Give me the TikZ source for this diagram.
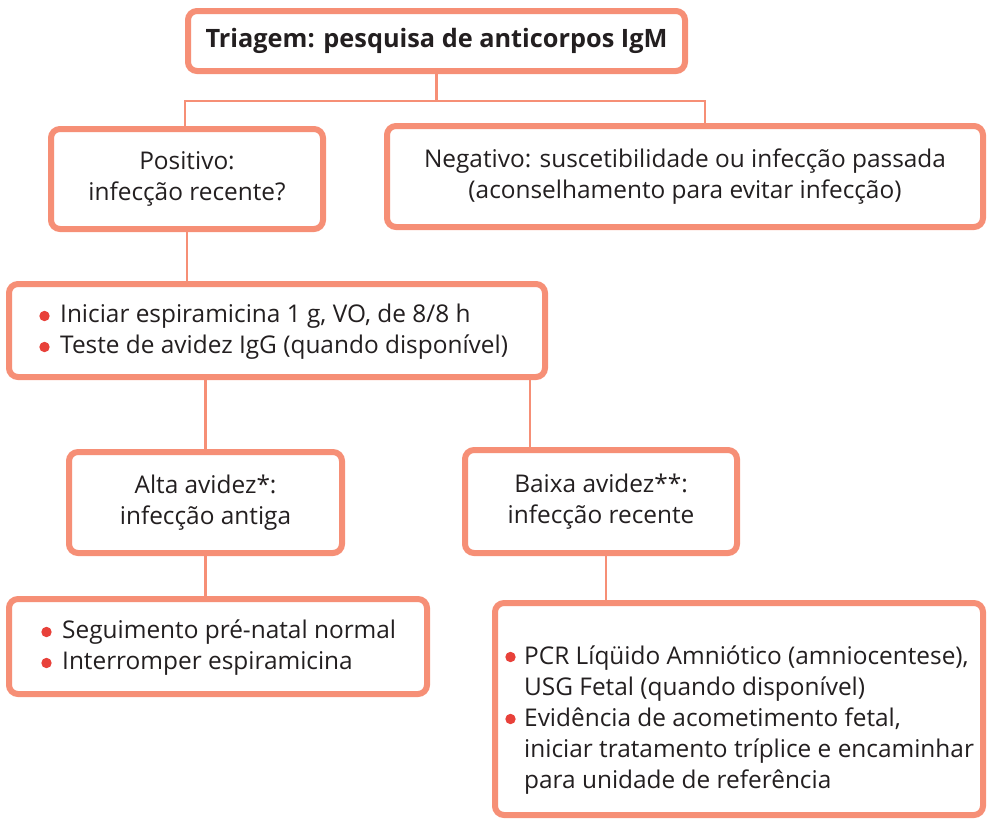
\documentclass[tikz,border=0pt]{standalone}
\usepackage{fontspec}
\setmainfont{Open Sans}
\definecolor{boxline}{RGB}{246,143,118}
\definecolor{bulred}{RGB}{232,65,58}
\definecolor{txt}{RGB}{35,31,32}
\begin{document}
\begin{tikzpicture}[x=1pt,y=-1pt,
  box/.style={draw=boxline,line width=6pt,rounded corners=9pt,fill=white,inner sep=0pt,
    font=\fontsize{24.4}{31}\selectfont,text=txt,align=center},
  list/.style={font=\fontsize{24.4}{31}\selectfont,text=txt,align=left,anchor=west,inner sep=0pt},
  bullet/.style={fill=bulred},
  conn/.style={draw=boxline,line width=2.6pt}]
\useasboundingbox (0,0) rectangle (989,823);
\coordinate (jl) at (185,101);
\coordinate (jr) at (705,101);
\coordinate (cb) at (530,400);
\coordinate (cp) at (606,580);
\node[box,minimum width=497pt,minimum height=60pt,font=\fontsize{25.3}{31}\selectfont\bfseries] (top) at (436.5,41) {Triagem: pesquisa de anticorpos IgM};
\node[box,minimum width=272pt,minimum height=100pt] (pos) at (187,179) {Positivo:\\infecção recente?};
\node[box,minimum width=596pt,minimum height=101pt] (neg) at (685,176.5) {Negativo: suscetibilidade ou infecção passada\\(aconselhamento para evitar infecção)};
\node[box,minimum width=536pt,minimum height=93pt] (ini) at (277,330.5) {};
\node[list] (initext) at (60,331.5) {Iniciar espiramicina 1 g, VO, de 8/8 h\\Teste de avidez IgG (quando disponível)};
\fill[bullet] (44.5,316) circle (5.2pt) (44.5,347) circle (5.2pt);
\node[box,minimum width=418pt,minimum height=95pt] (seg) at (218,646.5) {};
\node[list] (segtext) at (62,647.5) {Seguimento pré-natal normal\\Interromper espiramicina};
\fill[bullet] (46.5,632) circle (5.2pt) (46.5,663) circle (5.2pt);
\node[box,minimum width=273pt,minimum height=101pt] (alta) at (205.5,502.5) {Alta avidez*:\\infecção antiga};
\node[box,minimum width=272pt,minimum height=103pt] (baixa) at (601,501.5) {Baixa avidez**:\\infecção recente};
\node[box,minimum width=488pt,minimum height=212pt] (pcr) at (739,709) {};
\node[list] (pcrtext) at (524,720) {PCR Líqüido Amniótico (amniocentese),\\USG Fetal (quando disponível)\\Evidência de acometimento fetal,\\iniciar tratamento tríplice e encaminhar\\para unidade de referência};
\fill[bullet] (510.5,657) circle (5.2pt) (510.5,719) circle (5.2pt);
\draw[conn] (top.south) -- (top.south |- jl);
\draw[conn] (jl |- pos.north) -- (jl) -- (jr) -- (jr |- neg.north);
\draw[conn] (pos.south) -- (pos.south |- ini.north);
\draw[conn] (alta.north |- ini.south) -- (alta.north);
\draw[conn] (cb |- ini.south) -- (cb |- baixa.north);
\draw[conn] (alta.south) -- (alta.south |- seg.north);
\draw[conn] (cp |- baixa.south) -- (cp |- pcr.north);
\end{tikzpicture}
\end{document}
